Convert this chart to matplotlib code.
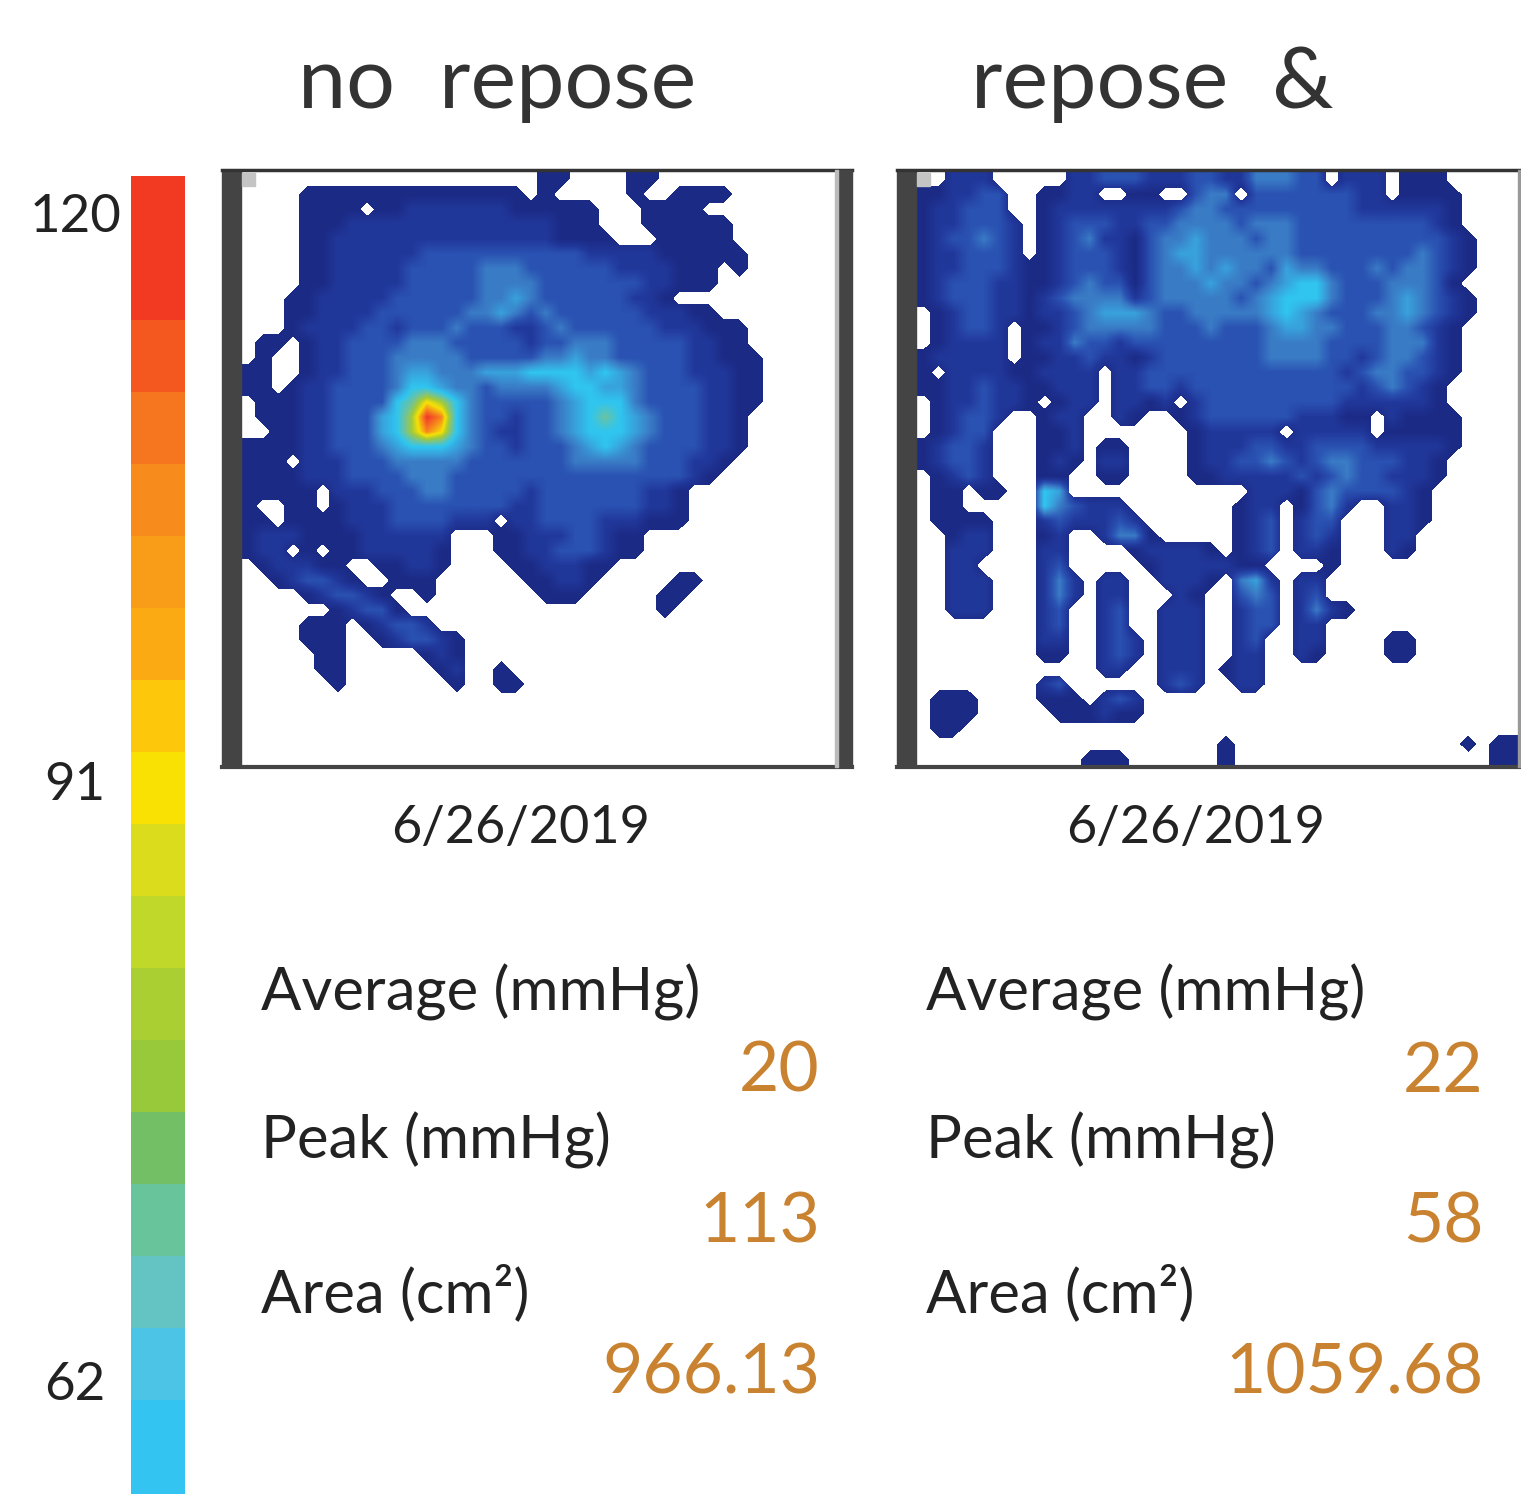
import numpy as np
import matplotlib
matplotlib.use("Agg")
import matplotlib.pyplot as plt
from matplotlib.colors import LinearSegmentedColormap, ListedColormap
from matplotlib.patches import Rectangle

# pressure level per sensor cell ('.' = no contact, 0 navy ... a red)
left_map = [
    ".........." ".........." "00....00.." "..........",
    "....000000" "000000000." "0.....0..0" "000.......",
    "....0000.0" "0111111100" "0000...000" "0.........",
    "....000111" "1111111111" "1000...000" "000.......",
    "....001111" "1111111111" "10000...00" "000.......",
    "....001111" "1122222222" "2221111100" "0000......",
    "....001111" "1222223332" "2222211110" "00.0......",
    "....001111" "1222223333" "2222222110" "00........",
    "...0011111" "2222223343" "222222110." "..........",
    "...0011112" "2222233432" "3222222111" "00........",
    "...0111122" "1222322211" "2322222211" "1000......",
    ".00.011222" "2333222221" "2233322222" "1100......",
    ".0..011222" "3333322222" "3343322222" "11000.....",
    "00..011222" "3443334445" "5554543222" "11100.....",
    "00.0112222" "3554332333" "3455443222" "21100.....",
    ".000112222" "5687532222" "2345553222" "21100.....",
    ".000112224" "57a9532212" "2345654322" "2110......",
    "..00112224" "5798532112" "2345554322" "2110......",
    "0000112223" "4555432212" "2234543222" "2110......",
    "000.111222" "3333322222" "2233333222" "110.......",
    "0000111222" "2333222222" "2222222222" "10........",
    "00000.1112" "2233222221" "2222222110" "..........",
    "0..00.0111" "2222222211" "2222222110" "..........",
    "00.0000111" "2222111.11" "2222111000" "..........",
    "0111000011" "1111...001" "1122100..." "..........",
    "011.0.0011" "1110...001" "1222100..." "..........",
    ".011100..0" "0110....00" "11100....." "..........",
    "..012210.." "000......0" "0110.....0" "0.........",
    "....012210" "..0......." "000.....00" "..........",
    "......0122" "0........." "........0." "..........",
    "....000.01" "221......." ".........." "..........",
    "....000..0" "12210....." ".........." "..........",
    ".....00..." "..010....." ".........." "..........",
    ".....00..." "...01..0.." ".........." "..........",
    "......0..." "....0..00." ".........." "..........",
]

right_map = [
    "..111....." "1122211122" "1133322.11" "1.000.....",
    "001122..00" "11..00..23" "3.22222221" "1.0000....",
    "011222..01" "1111111233" "2222222221" "111110....",
    "0112221.01" "2221122333" "3233322222" "222210....",
    "0122321.01" "2311023343" "3323322222" "2222210...",
    "0112221.01" "2221023443" "3333322222" "2223210...",
    "0112221001" "2221023343" "4332433222" "3233210...",
    "0122211001" "2322023334" "3323455322" "233320....",
    "0122211012" "3333123333" "3234555322" "2343210...",
    ".012211011" "2344432233" "3334543222" "3343210...",
    ".01221.001" "2333332223" "2223443322" "233210....",
    ".01111.011" "3221222222" "2223333222" "233310....",
    "011111.001" "1211012222" "2223333221" "233210....",
    "0.11110011" "11.1122222" "2222222212" "332210....",
    "0011211001" "11.1122122" "2222222221" "23210.....",
    ".0112110.0" "11.1101.12" "2222222211" "11110.....",
    ".01221..01" "1..10..012" "2222211100" ".10000....",
    ".0122...00" "1.......01" "1111.11111" ".00000....",
    "01221...00" "1.00....01" "1122112222" "111110....",
    "01221...01" "0.11....01" "1223212332" "22110.....",
    ".0121...00" "..00....00" "1111121232" "21110.....",
    ".00.00..54" ".........." "..11102322" "2210......",
    ".00.....53" "2111......" ".011.0231." ".110......",
    ".0000...12" "11121....." ".012.122.." ".110......",
    "..011...01" "..1330...." ".012.121.." ".11.......",
    "..111...11" "....011110" ".012.110.." ".10.......",
    "..11....12" ".....01111" "100....0.." "..........",
    "..111...13" "1.11..1110" ".341.11..." "..........",
    "..111...13" "1.11...10." ".232.12..." "..........",
    "..111...12" "..12..111." ".122.1310." "..........",
    "........12" "..12..111." ".122.11..." "..........",
    "........11" "..121.111." ".12..11..." ".00.......",
    "........00" "..121.111." ".11..10..." ".00.......",
    ".........." "..11..111." "011......." "..........",
    "........12" "......121." ".11......." "..........",
    ".000....00" "0.121....." ".........." "..........",
    ".000.....0" "00100....." ".........." "..........",
    ".00......." ".........." ".........." "..........",
    ".........." ".........." "0........." "......0.00",
    ".........." ".000......" "0........." "........00",
]

map_colors = ["#1b2a85", "#21389b", "#2a52b2", "#3a7cc6", "#38a2dc", "#2fc6f0",
              "#6cc3a0", "#a4ca38", "#f6e106", "#f7861d", "#f1382a"]
scale_colors = ["#f23a23", "#f23a23", "#f4581f", "#f6761f", "#f78b1c", "#f99c18",
                "#fbaa13", "#fdc70c", "#f9e203", "#dbdc1c", "#bfd82a", "#a9cf33",
                "#97c93a", "#72bf65", "#68c49b", "#63c4c3", "#4cc4e6", "#33c4f2", "#33c4f2"]
scale_ticks = ["120", "91", "62"]
titles = ["no  repose", "repose  &"]
date_label = "6/26/2019"
stat_names = ["Average (mmHg)", "Peak (mmHg)", "Area (cm²)"]
left_stats = ["20", "113", "966.13"]
right_stats = ["22", "58", "1059.68"]


def parse_map(rows):
    # rows are 40 character strings, missing rows stay empty
    grid = np.full((40, 40), np.nan)
    for r, row in enumerate(rows):
        for c, ch in enumerate(row[:40]):
            if ch != ".":
                grid[r, c] = int(ch, 16)
    return grid


def draw_map(ax, rows, x0, x1, y0, y1):
    grid = parse_map(rows)
    contact = np.pad(np.isfinite(grid).astype(float), 1, mode="edge")
    ax.imshow(np.nan_to_num(grid), cmap=pressure_cmap, vmin=0, vmax=10, extent=(x0, x1, y1, y0),
              aspect="auto", interpolation="bilinear", zorder=1)
    # white over everything without contact, the low level gives fatter blobs
    cell_w = (x1 - x0) / 40
    cell_h = (y1 - y0) / 40
    xs = x0 + cell_w * (np.arange(42) - 0.5)
    ys = y0 + cell_h * (np.arange(42) - 0.5)
    ax.contourf(xs, ys, contact, levels=[-0.1, 0.38], colors="white", zorder=2)


def draw_frame(ax, x0, x1, y0, y1, right_bar=True):
    ax.add_patch(Rectangle((x0, y0), 19, y1 - y0, color="#444444", zorder=3))
    ax.plot([x0, x1], [y0, y0], color="#333333", lw=2.5, zorder=3)
    ax.plot([x0, x1], [y1, y1], color="#444444", lw=3, zorder=3)
    if right_bar:
        ax.add_patch(Rectangle((x1 - 14, y0), 14, y1 - y0, color="#444444", zorder=3))
        ax.add_patch(Rectangle((x1 - 17, y0), 3, y1 - y0, color="#bbbbbb", zorder=3))
    else:
        ax.add_patch(Rectangle((x1 - 3, y0), 3, y1 - y0, color="#999999", zorder=3))
    ax.add_patch(Rectangle((x0 + 20, y0 + 3), 13, 13, color="#c4c4c4", zorder=3))


def draw_stats(ax, x_name, x_value, values):
    for name, y in zip(stat_names, [992, 1140, 1293]):
        ax.text(x_name, y, name, fontsize=43, color="#222222", va="center", ha="left")
    for value, y in zip(values, [1072, 1223, 1374]):
        ax.text(x_value, y, value, fontsize=50, color="#c9822f", va="center", ha="right")


plt.rcParams["font.family"] = ["Lato", "DejaVu Sans"]
fig = plt.figure(figsize=(15.21, 14.94), dpi=100)
ax = fig.add_axes([0, 0, 1, 1])
ax.axis("off")

pressure_cmap = LinearSegmentedColormap.from_list("pressure", map_colors)

draw_map(ax, left_map, 241, 836, 172, 766)
draw_map(ax, right_map, 916, 1521, 172, 766)
draw_frame(ax, 222, 852, 170, 767)
draw_frame(ax, 897, 1521, 170, 767, right_bar=False)

# colour scale, one step per band
ax.imshow(np.arange(len(scale_colors))[:, None], cmap=ListedColormap(scale_colors), extent=(131, 185, 1544, 176),
          aspect="auto", interpolation="nearest")
ax.set_xlim(0, 1521)
ax.set_ylim(1494, 0)
for label, x, y in zip(scale_ticks, [122, 105, 105], [217, 785, 1385]):
    ax.text(x, y, label, fontsize=38, color="#222222", ha="right", va="center")

ax.text(497, 84, titles[0], fontsize=62, color="#333333", ha="center", va="center")
ax.text(1152, 84, titles[1], fontsize=62, color="#333333", ha="center", va="center")
ax.text(521, 829, date_label, fontsize=37.5, color="#222222", ha="center", va="center")
ax.text(1196, 829, date_label, fontsize=37.5, color="#222222", ha="center", va="center")

draw_stats(ax, 261, 820, left_stats)
draw_stats(ax, 926, 1484, right_stats)

fig.savefig("out.png", dpi=100)
